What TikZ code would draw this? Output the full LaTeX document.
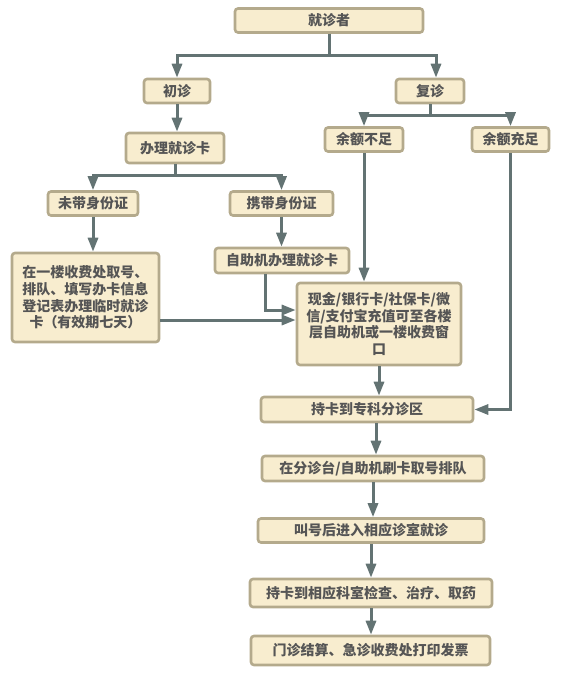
\documentclass[tikz,border=0pt]{standalone}
\usepackage{fontspec}
\newfontfamily\cjk{Noto Sans CJK SC}
\usetikzlibrary{arrows.meta}
\definecolor{boxfill}{HTML}{F8EDCF}
\definecolor{boxline}{HTML}{B4AA8C}
\definecolor{linkgray}{HTML}{637373}
\definecolor{textgray}{HTML}{555555}

\begin{document}
\begin{tikzpicture}[x=1pt,y=-1pt,
  box/.style={draw=boxline,fill=boxfill,line width=2.6pt,rounded corners=3pt,
    inner sep=0pt,text=textgray,font=\cjk\bfseries\fontsize{14}{16.7}\selectfont,align=center},
  link/.style={draw=linkgray,line width=3pt,-{Triangle[length=14pt,width=10pt]}}]
\path (0,0) rectangle (588,678);
\node[box,minimum width=188pt,minimum height=24pt] (p) at (329,20.5) {就诊者};
\node[box,minimum width=66pt,minimum height=24pt] (first) at (177,91) {初诊};
\node[box,minimum width=68pt,minimum height=24pt] (again) at (430,91) {复诊};
\node[box,minimum width=98pt,minimum height=30pt] (card) at (175,148) {办理就诊卡};
\node[box,minimum width=90pt,minimum height=24pt] (noid) at (93,203.5) {未带身份证};
\node[box,minimum width=103pt,minimum height=24pt] (withid) at (281.5,203.5) {携带身份证};
\node[box,minimum width=78pt,minimum height=24pt] (low) at (364,139.5) {余额不足};
\node[box,minimum width=77pt,minimum height=24pt] (enough) at (510.5,139.5) {余额充足};
\node[box,minimum width=147pt,minimum height=89pt] (temp) at (85.5,297.5)
  {在一楼收费处取号、\\排队、填写办卡信息\\登记表办理临时就诊\\卡（有效期七天）};
\node[box,minimum width=134pt,minimum height=25pt] (kiosk) at (282,260.5) {自助机办理就诊卡};
\node[box,minimum width=164pt,minimum height=82pt] (topup) at (379,324)
  {现金/银行卡/社保卡/微\\信/支付宝充值可至各楼\\层自助机或一楼收费窗\\口};
\node[box,minimum width=212pt,minimum height=25pt] (clinic) at (367,409.5) {持卡到专科分诊区};
\node[box,minimum width=222pt,minimum height=25pt] (queue) at (373,468.5) {在分诊台/自助机刷卡取号排队};
\node[box,minimum width=226pt,minimum height=24pt] (call) at (371,530.5) {叫号后进入相应诊室就诊};
\node[box,minimum width=242pt,minimum height=28pt] (treat) at (371,593) {持卡到相应科室检查、治疗、取药};
\node[box,minimum width=239pt,minimum height=29pt] (pay) at (370.5,650.5) {门诊结算、急诊收费处打印发票};
\coordinate (qin) at ([xshift=3pt]queue.north);
\draw[link] (p.south) -- ++(0,22) -| (first.north);
\draw[link] (p.south) -- ++(0,22) -| ([xshift=6pt]again.north);
\draw[link] (first.south) -- (first.south |- card.north);
\draw[link] (card.south) -- ++(0,11) -| (noid.north);
\draw[link] (card.south) -- ++(0,11) -| (withid.north);
\draw[link] (again.south) -- ++(0,11) -| (low.north);
\draw[link] (again.south) -- ++(0,11) -| (enough.north);
\draw[link] (noid.south) -- (noid.south |- temp.north);
\draw[link] (withid.south) -- (withid.south |- kiosk.north);
\draw[link] (low.south) -- (low.south |- topup.north);
\draw[link] ([xshift=-17pt]kiosk.south) |- ([yshift=14pt]topup.west);
\draw[link] ([yshift=-22.5pt]temp.east) -- ([yshift=-22.5pt]temp.east -| topup.west);
\draw[link] (topup.south) -- (topup.south |- clinic.north);
\draw[link] (enough.south) |- (clinic.east);
\draw[link] (qin |- clinic.south) -- (qin);
\draw[link] (queue.south) -- (queue.south |- call.north);
\draw[link] (call.south) -- (call.south |- treat.north);
\draw[link] (treat.south) -- (treat.south |- pay.north);
\end{tikzpicture}
\end{document}
